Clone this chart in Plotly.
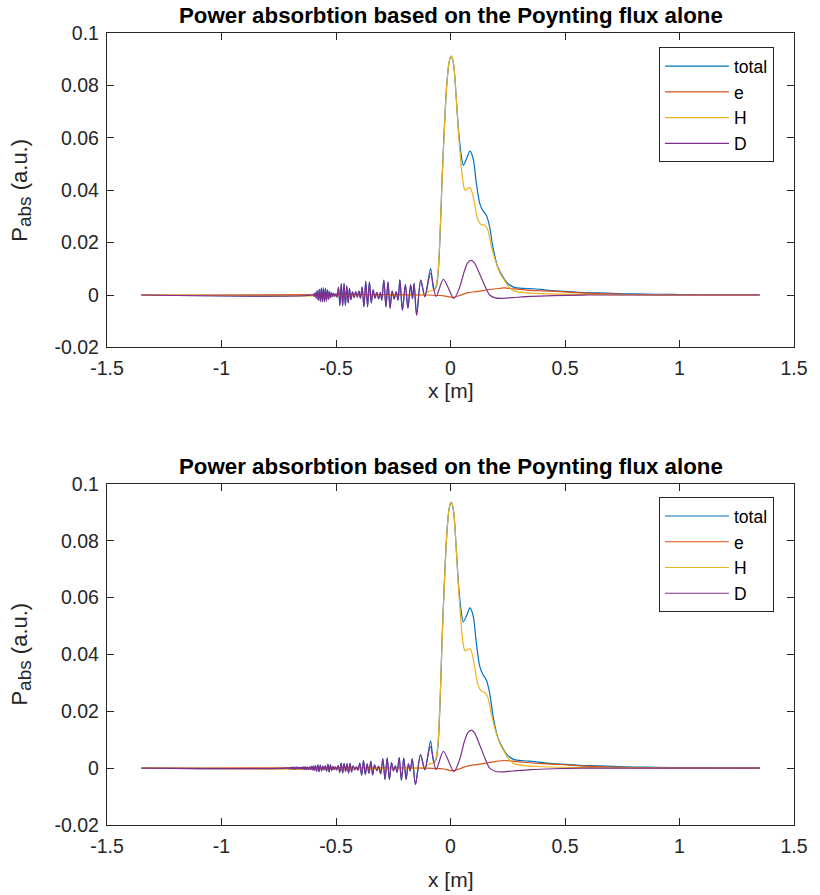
import plotly.graph_objects as go

# ---------------- data ----------------
# top panel: oscillating region shared by "total" and "D" (x < -0.09)
top_osc_x = [-1.35, -0.605, -0.600, -0.5955, -0.591, -0.5865, -0.582, -0.5775, -0.573, -0.5685,
             -0.564, -0.5595, -0.555, -0.5505, -0.546, -0.5415, -0.537, -0.5325, -0.528, -0.5235,
             -0.519, -0.5145, -0.510, -0.505, -0.500, -0.495,
             -0.489, -0.483, -0.477, -0.471, -0.465, -0.459, -0.453, -0.447, -0.441, -0.435,
             -0.428, -0.421, -0.414, -0.407, -0.400, -0.393,
             -0.386, -0.378, -0.370, -0.362, -0.354, -0.346, -0.338,
             -0.330, -0.322, -0.314, -0.306,
             -0.300, -0.291, -0.282, -0.273, -0.264, -0.255,
             -0.246, -0.237, -0.229,
             -0.221, -0.210, -0.197, -0.186, -0.174, -0.166, -0.159, -0.148, -0.130, -0.112]
top_osc_y = [0, 0, 0.0003, -0.0005, 0.0008, -0.0012, 0.0016, -0.0019, 0.0022, -0.0024,
             0.0026, -0.0026, 0.0027, -0.0026, 0.0025, -0.0023, 0.0020, -0.0017, 0.0013, -0.0010,
             0.0008, -0.0006, 0.0005, -0.0004, 0.0004, -0.0008,
             0.0030, -0.0040, 0.0044, -0.0042, 0.0045, -0.0040, 0.0035, -0.0030, 0.0025, -0.0018,
             0.0012, -0.0010, 0.0013, -0.0008, 0.0015, -0.0012,
             0.0030, -0.0045, 0.0052, -0.0045, 0.0050, -0.0030, 0.0020,
             -0.0012, 0.0010, -0.0015, 0.0010,
             -0.0020, 0.0057, -0.0045, 0.0050, -0.0050, 0.0015,
             -0.0015, 0.0012, -0.0020,
             0.0058, -0.0058, 0.0040, -0.0050, 0.0040, -0.0015, 0.0045, -0.0077, 0.0057, -0.0006]

top_D_x = [-0.087, -0.063, -0.031, 0.015, 0.040, 0.060, 0.075, 0.091, 0.105, 0.125, 0.150,
           0.171, 0.195, 0.221, 0.270, 0.350, 0.450, 0.600, 1.350]
top_D_y = [0.0083, -0.0006, 0.0060, -0.0013, 0.0030, 0.0090, 0.0123, 0.0132, 0.0122, 0.0085, 0.0035,
           0.0000, -0.0011, -0.0013, -0.0010, -0.0005, -0.0002, 0.0000, 0.0000]

top_tot_x = [-0.087, -0.073, -0.063, -0.054, -0.044, -0.037, -0.026, -0.016, -0.006, 0.003,
             0.013, 0.023, 0.034, 0.046, 0.056, 0.070, 0.085, 0.099, 0.113, 0.128,
             0.142, 0.156, 0.171, 0.185, 0.206, 0.228, 0.249, 0.278, 0.321, 0.363,
             0.420, 0.500, 0.564, 0.650, 0.707, 0.800, 0.900, 1.000, 1.350]
top_tot_y = [0.0102, 0.0020, 0.0030, 0.0083, 0.0260, 0.0438, 0.0654, 0.0807, 0.0889, 0.0912,
             0.0883, 0.0780, 0.0640, 0.0540, 0.0495, 0.0520, 0.0549, 0.0520, 0.0426, 0.0349,
             0.0321, 0.0305, 0.0260, 0.0184, 0.0108, 0.0070, 0.0045, 0.0029, 0.0025, 0.0024,
             0.0019, 0.0014, 0.0010, 0.0008, 0.0006, 0.0004, 0.0003, 0.0002, 0.0001]

top_H_x = [-1.35, -0.150, -0.110, -0.095, -0.075, -0.065, -0.055, -0.045, -0.037, -0.026,
           -0.016, -0.006, 0.003, 0.013, 0.023, 0.034, 0.046, 0.055, 0.063, 0.072,
           0.085, 0.095, 0.105, 0.120, 0.135, 0.149, 0.163, 0.180, 0.200, 0.218,
           0.235, 0.255, 0.278, 0.320, 0.400, 0.600, 1.000, 1.350]
top_H_y = [0, 0, 0.0005, 0.0015, 0.0018, 0.0030, 0.0080, 0.0250, 0.0430, 0.0650,
           0.0805, 0.0890, 0.0912, 0.0885, 0.0780, 0.0630, 0.0500, 0.0430, 0.0400, 0.0405,
           0.0410, 0.0390, 0.0350, 0.0286, 0.0268, 0.0267, 0.0248, 0.0180, 0.0121, 0.0080,
           0.0057, 0.0030, 0.0016, 0.0009, 0.0005, 0.0002, 0, 0]

top_e_x = [-1.35, -0.100, -0.030, 0.010, 0.040, 0.077, 0.120, 0.163, 0.200, 0.234,
           0.270, 0.334, 0.400, 0.478, 0.550, 0.620, 0.700, 0.800, 0.950, 1.350]
top_e_y = [0, 0, -0.0003, -0.0009, -0.0002, 0.0009, 0.0014, 0.0020, 0.0024, 0.0027,
           0.0024, 0.0019, 0.0016, 0.0013, 0.0009, 0.0006, 0.0004, 0.0002, 0.0000, 0]

# bottom panel
bot_osc_x = [-1.35, -0.715,
             -0.712, -0.708, -0.704, -0.700, -0.696, -0.692, -0.688, -0.684, -0.680, -0.676,
             -0.672, -0.668, -0.664, -0.660, -0.656, -0.652, -0.648, -0.644, -0.640, -0.636,
             -0.632, -0.628, -0.624, -0.620, -0.616, -0.612, -0.608, -0.604, -0.600, -0.596,
             -0.5905, -0.585, -0.5795, -0.574, -0.5685, -0.563, -0.5575, -0.552, -0.5465,
             -0.541, -0.5355, -0.530, -0.5245, -0.519, -0.5135, -0.508, -0.5025, -0.497,
             -0.4905, -0.484, -0.4775, -0.471, -0.4645, -0.458, -0.4515, -0.445, -0.4385,
             -0.432, -0.4255,
             -0.418, -0.411, -0.404,
             -0.396, -0.388, -0.380, -0.372, -0.364, -0.356, -0.348, -0.340, -0.332,
             -0.322, -0.314,
             -0.305, -0.2955, -0.286, -0.2765, -0.267, -0.2575,
             -0.249, -0.241, -0.233, -0.224, -0.2145, -0.204, -0.194, -0.184, -0.176,
             -0.167, -0.153, -0.131, -0.112]
bot_osc_y = [0, 0,
             0.0001, -0.0002, 0.0002, -0.0003, 0.0003, -0.0003, 0.0004, -0.0004, 0.0004, -0.0004,
             0.0004, -0.0003, 0.0003, -0.0003, 0.0003, -0.0003, 0.0004, -0.0004, 0.0005, -0.0005,
             0.0005, -0.0005, 0.0004, -0.0004, 0.0004, -0.0005, 0.0006, -0.0006, 0.0007, -0.0008,
             0.0009, -0.0011, 0.0012, -0.0012, 0.0011, -0.0009, 0.0007, -0.0006, 0.0008,
             -0.0011, 0.0013, -0.0013, 0.0012, -0.0009, 0.0006, -0.0005, 0.0005, -0.0006,
             0.0009, -0.0015, 0.0018, -0.0017, 0.0016, -0.0012, 0.0015, -0.0017, 0.0017,
             -0.0013, 0.0008,
             -0.0006, 0.0005, -0.0007,
             0.0018, -0.0025, 0.0027, -0.0022, 0.0015, -0.0018, 0.0025, -0.0024, 0.0012,
             -0.0009, 0.0007,
             -0.0020, 0.0033, -0.0040, 0.0036, -0.0040, 0.0020,
             -0.0010, 0.0008, -0.0015, 0.0037, -0.0043, 0.0035, -0.0040, 0.0015, -0.0010,
             0.0033, -0.0058, 0.0048, -0.0005]

bot_D_x = [-0.088, -0.063, -0.031, 0.015, 0.040, 0.060, 0.075, 0.091, 0.105, 0.125, 0.150,
           0.171, 0.195, 0.221, 0.270, 0.350, 0.450, 0.600, 1.350]
bot_D_y = [0.0076, -0.0005, 0.0059, -0.0012, 0.0031, 0.0092, 0.0124, 0.0134, 0.0124, 0.0087, 0.0036,
           0.0000, -0.0011, -0.0013, -0.0010, -0.0005, -0.0002, 0.0000, 0.0000]

bot_tot_x = top_tot_x
bot_tot_y = [0.0096, 0.0020, 0.0031, 0.0085, 0.0265, 0.0449, 0.0668, 0.0826, 0.0913, 0.0936,
             0.0906, 0.0801, 0.0658, 0.0556, 0.0515, 0.0536, 0.0564, 0.0536, 0.0439, 0.0357,
             0.0329, 0.0311, 0.0265, 0.0188, 0.0110, 0.0071, 0.0046, 0.0030, 0.0026, 0.0023,
             0.0018, 0.0013, 0.0010, 0.0008, 0.0006, 0.0004, 0.0003, 0.0002, 0.0001]

bot_H_x = top_H_x
bot_H_y = [0, 0, 0.0005, 0.0014, 0.0018, 0.0031, 0.0082, 0.0255, 0.0441, 0.0665,
           0.0824, 0.0913, 0.0936, 0.0908, 0.0801, 0.0648, 0.0512, 0.0439, 0.0413, 0.0416,
           0.0420, 0.0400, 0.0357, 0.0294, 0.0271, 0.0267, 0.0250, 0.0184, 0.0123, 0.0082,
           0.0058, 0.0031, 0.0016, 0.0009, 0.0005, 0.0002, 0, 0]

bot_e_x = top_e_x
bot_e_y = [0, 0, -0.0003, -0.0009, -0.0002, 0.0008, 0.0013, 0.0019, 0.0024, 0.0027,
           0.0025, 0.0020, 0.0016, 0.0013, 0.0009, 0.0006, 0.0004, 0.0002, 0.0000, 0]

series_names = ["total", "e", "H", "D"]
colors = ["#0072BD", "#D95319", "#EDB120", "#7E2F8E"]

x_ticks = [-1.5, -1, -0.5, 0, 0.5, 1, 1.5]
x_ticktext = ["-1.5", "-1", "-0.5", "0", "0.5", "1", "1.5"]
y_ticks = [-0.02, 0, 0.02, 0.04, 0.06, 0.08, 0.1]
y_ticktext = ["-0.02", "0", "0.02", "0.04", "0.06", "0.08", "0.1"]

title_text = "Power absorbtion based on the Poynting flux alone"
ylabel_text = "P<sub><span style='font-size:19px'>abs</span></sub> (a.u.)"

# ---------------- figure ----------------
FONT = "Liberation Sans, Arial, Helvetica, sans-serif"
AX = "#262626"

panels = [
    dict(xa="x", ya="y", legend="legend",
         data=[(top_osc_x + top_tot_x, top_osc_y + top_tot_y),
               (top_e_x, top_e_y),
               (top_H_x, top_H_y),
               (top_osc_x + top_D_x, top_osc_y + top_D_y)]),
    dict(xa="x2", ya="y2", legend="legend2",
         data=[(bot_osc_x + bot_tot_x, bot_osc_y + bot_tot_y),
               (bot_e_x, bot_e_y),
               (bot_H_x, bot_H_y),
               (bot_osc_x + bot_D_x, bot_osc_y + bot_D_y)]),
]

fig = go.Figure()
for p in panels:
    for (xs, ys), name, col in zip(p["data"], series_names, colors):
        fig.add_trace(go.Scatter(
            x=xs, y=ys, mode="lines", name=name,
            line=dict(color=col, width=1.2, shape="spline", smoothing=0.8),
            xaxis=p["xa"], yaxis=p["ya"], legend=p["legend"], hoverinfo="skip"))

axis_common = dict(showline=True, linecolor=AX, linewidth=1.3, mirror="ticks",
                   ticks="inside", ticklen=7, tickwidth=1.3, tickcolor=AX,
                   showgrid=False, zeroline=False,
                   tickfont=dict(family=FONT, size=19.5, color=AX))

fig.update_layout(
    width=820, height=895,
    margin=dict(l=107, r=16, t=33, b=70),
    paper_bgcolor="white", plot_bgcolor="white",
    font=dict(family=FONT, color=AX),
    xaxis=dict(domain=[0, 1], anchor="y", range=[-1.5, 1.5], tickvals=x_ticks, ticktext=x_ticktext,
               ticklabelstandoff=3, **axis_common),
    yaxis=dict(domain=[0.603, 1], anchor="x", range=[-0.02, 0.1], tickvals=y_ticks, ticktext=y_ticktext,
               ticklabelstandoff=3, **axis_common),
    xaxis2=dict(domain=[0, 1], anchor="y2", range=[-1.5, 1.5], tickvals=x_ticks, ticktext=x_ticktext,
                ticklabelstandoff=3, **axis_common),
    yaxis2=dict(domain=[0, 0.4306], anchor="x2", range=[-0.02, 0.1], tickvals=y_ticks, ticktext=y_ticktext,
                ticklabelstandoff=3, **axis_common),
    legend=dict(x=0.8034, y=0.982, xanchor="left", yanchor="top", bgcolor="white",
                bordercolor=AX, borderwidth=1, font=dict(family=FONT, size=17.5, color="black"),
                itemwidth=64, tracegroupgap=0),
    legend2=dict(x=0.8034, y=0.414, xanchor="left", yanchor="top", bgcolor="white",
                 bordercolor=AX, borderwidth=1, font=dict(family=FONT, size=17.5, color="black"),
                 itemwidth=64, tracegroupgap=0),
    showlegend=True,
)

annos = [
    dict(text="<b>" + title_text + "</b>", x=0.5, y=1.0215, font=dict(size=22.3, color="black")),
    dict(text="<b>" + title_text + "</b>", x=0.5, y=0.4527, font=dict(size=22.3, color="black")),
    dict(text="x [m]", x=0.5, y=0.548, font=dict(size=21, color=AX)),
    dict(text="x [m]", x=0.5, y=-0.0694, font=dict(size=21, color=AX)),
    dict(text=ylabel_text, x=-0.125, y=0.801, textangle=-90, font=dict(size=22, color=AX)),
    dict(text=ylabel_text, x=-0.125, y=0.2153, textangle=-90, font=dict(size=22, color=AX)),
]
for a in annos:
    fig.add_annotation(xref="paper", yref="paper", xanchor="center", yanchor="middle",
                       showarrow=False, **{k: v for k, v in a.items() if k != "font"},
                       font=dict(family=FONT, **a["font"]))

fig.write_html("out.html")
